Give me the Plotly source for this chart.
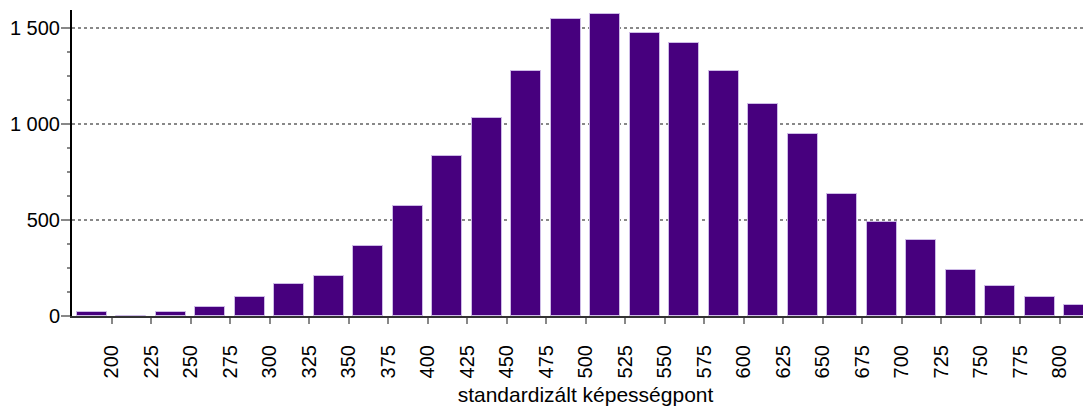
import plotly.graph_objects as go

# Data
tick_labels = ["200", "225", "250", "275", "300", "325", "350", "375", "400", "425",
               "450", "475", "500", "525", "550", "575", "600", "625", "650", "675",
               "700", "725", "750", "775", "800"]
bar_values = [22, 0, 22, 45, 97, 168, 210, 364, 571, 832,
              1028, 1276, 1545, 1571, 1474, 1422, 1276, 1101, 945, 635,
              491, 397, 241, 158, 97, 55]
y_tick_vals = [0, 500, 1000, 1500]
y_tick_text = ["0", "500", "1 000", "1 500"]
x_title = "standardizált képességpont"

bar_idx = list(range(len(bar_values)))
tick_pos = [i + 0.5 for i in range(len(tick_labels))]

FONT = "Liberation Sans, Arial, sans-serif"

fig = go.Figure(go.Bar(
    x=bar_idx, y=bar_values, width=0.76,
    marker=dict(color="#47007e", line=dict(color="#cdbbe6", width=1)),
    hoverinfo="y",
))

# page body has an 8px default margin, so the figure is offset by 8px
fig.update_layout(
    width=1091, height=408,
    margin=dict(l=64, r=0, t=2, b=100),
    paper_bgcolor="white", plot_bgcolor="white",
    showlegend=False,
    font=dict(family=FONT, color="black", size=20),
    bargap=0,
)

fig.update_xaxes(
    range=[-0.5, 25.5],
    tickmode="array", tickvals=tick_pos, ticktext=tick_labels,
    tickangle=-90, ticks="outside", ticklen=6, tickwidth=1.5, tickcolor="#888",
    tickfont=dict(family=FONT, size=20, color="black"),
    ticklabelstandoff=13,
    showline=True, linecolor="#333", linewidth=2,
    showgrid=False, zeroline=False,
    title=dict(text=x_title, font=dict(family=FONT, size=21, color="black"), standoff=10),
    automargin=False,
)

fig.update_yaxes(
    range=[0, 1592],
    tickmode="array", tickvals=y_tick_vals, ticktext=y_tick_text,
    ticks="outside", ticklen=9, tickwidth=1.5, tickcolor="#888",
    tickfont=dict(family=FONT, size=20, color="black"),
    ticklabelstandoff=-3,
    minor=dict(dtick=125, tick0=0, ticks="outside", ticklen=3, tickwidth=1.5, tickcolor="#888", showgrid=False),
    showline=True, linecolor="black", linewidth=2,
    showgrid=True, gridcolor="#888", griddash="dot", gridwidth=1.5,
    zeroline=False,
    automargin=False,
)

fig.write_html("out.html")
